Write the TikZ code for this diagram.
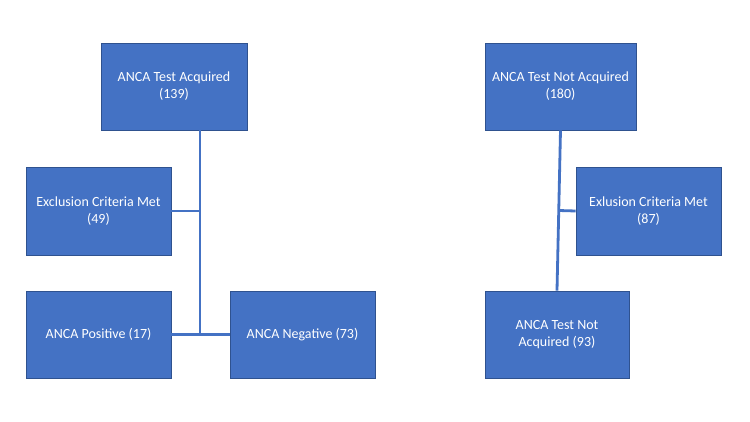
\documentclass[tikz,border=0pt]{standalone}
\usepackage{fontspec}
\setmainfont{Carlito}
\usetikzlibrary{calc}
\definecolor{boxblue}{HTML}{4472C4}
\definecolor{boxedge}{HTML}{2F528F}
\tikzset{
    flowbox/.style={draw=boxedge,line width=0.8pt,fill=boxblue,text=white,
        align=center,inner sep=2pt,font=\fontsize{14}{17}\selectfont},
    link/.style={draw=boxblue,line width=2.8pt}
}
\begin{document}
\begin{tikzpicture}[x=1pt,y=-1pt]
    \useasboundingbox (0,0) rectangle (750,422);
    \fill[white] (0,0) rectangle (750,422);
    % Left branch: test acquired.
    \node[flowbox,minimum width=146pt,minimum height=87pt] (acq) at (174,86.5)
        {ANCA Test Acquired\\(139)};
    \node[flowbox,minimum width=145pt,minimum height=88pt] (exclL) at (98.5,211)
        {Exclusion Criteria Met\\(49)};
    \node[flowbox,minimum width=145pt,minimum height=87pt] (pos) at (98.5,334.5)
        {ANCA Positive (17)};
    \node[flowbox,minimum width=145pt,minimum height=87pt] (neg) at (302.5,334.5)
        {ANCA Negative (73)};
    \coordinate (trunkL) at (200,334.5);

    \draw[link] (acq.south -| trunkL) -- (trunkL);
    \draw[link] (exclL.east) -- (exclL.east -| trunkL);
    \draw[link] (pos.east) -- (neg.west);

    % Right branch: test not acquired.
    \node[flowbox,minimum width=151pt,minimum height=87pt] (notacq) at (560.5,86.5)
        {ANCA Test Not Acquired\\(180)};
    \node[flowbox,minimum width=145pt,minimum height=88pt] (exclR) at (648.5,211)
        {Exlusion Criteria Met\\(87)};
    \node[flowbox,minimum width=144pt,minimum height=87pt] (remain) at (557,334.5)
        {ANCA Test Not\\Acquired (93)};
    \coordinate (trunkR) at ($(notacq.south)!0.5!(remain.north)$);

    \draw[link] (notacq.south) -- (remain.north);
    \draw[link] (exclR.west) -- (trunkR);
\end{tikzpicture}
\end{document}
